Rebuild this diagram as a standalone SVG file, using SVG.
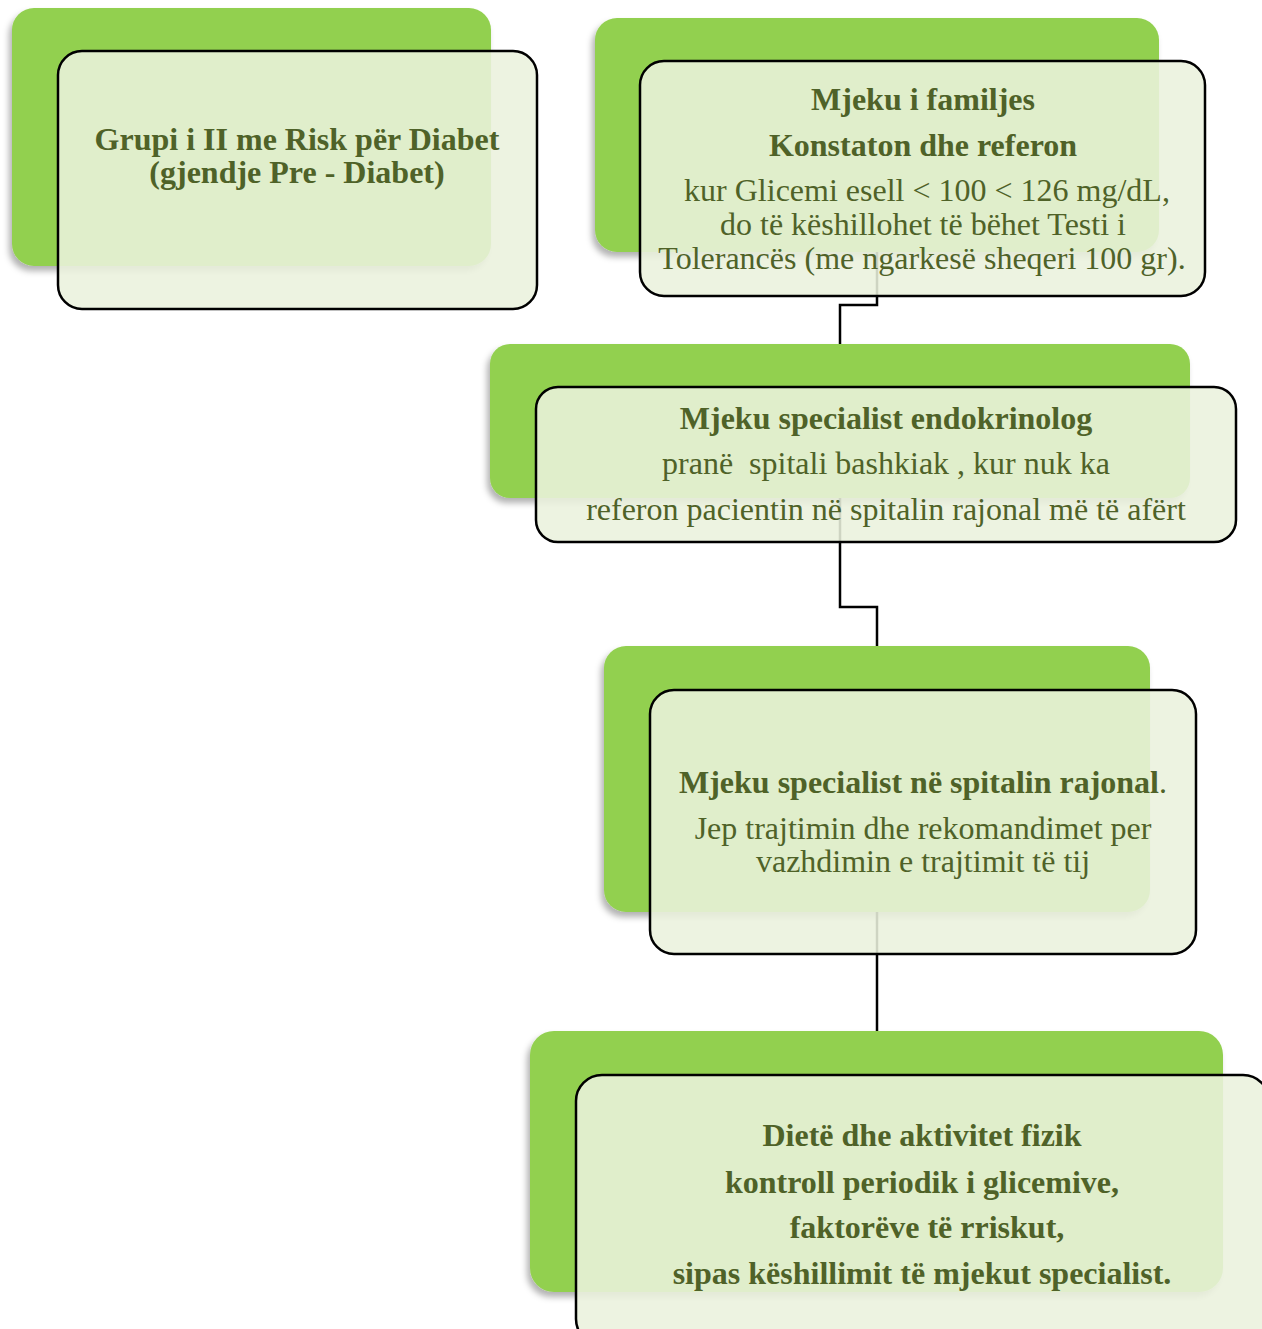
<svg xmlns="http://www.w3.org/2000/svg" width="1262" height="1329" viewBox="0 0 1262 1329">
<defs>
<filter id="sh" x="-10%" y="-10%" width="120%" height="125%">
<feDropShadow dx="-3" dy="5" stdDeviation="3" flood-color="#000" flood-opacity="0.3"/>
</filter>
<style>
.bg{fill:#92d050;filter:url(#sh)}
.fr{fill:#eaf1dd;fill-opacity:0.88;stroke:#000;stroke-width:2.5}
.t{font-family:"Liberation Serif","Times New Roman",serif;font-size:32px;fill:#4f6228;text-anchor:middle}
.b{font-weight:bold}
.cn{fill:none;stroke:#000;stroke-width:2.5}
</style>
</defs>
<rect width="1262" height="1329" fill="#fff"/>
<g id="connectors">
<path class="cn" d="M877 252 V305 H840 V344"/>
<path class="cn" d="M840 498 V607 H877 V646"/>
<path class="cn" d="M877 912 V1031"/>
</g>
<g id="node1">
<rect class="bg" x="12" y="8" width="479" height="258" rx="22"/>
<rect class="fr" x="58" y="51" width="479" height="258" rx="24"/>
<text class="t b" x="297" y="150">Grupi i II me Risk për Diabet</text>
<text class="t b" x="297" y="183">(gjendje Pre - Diabet)</text>
</g>
<g id="node2">
<rect class="bg" x="595" y="18" width="564" height="234" rx="22"/>
<rect class="fr" x="640" y="61" width="565" height="235" rx="24"/>
<text class="t b" x="923" y="110">Mjeku i familjes</text>
<text class="t b" x="923" y="156">Konstaton dhe referon</text>
<text class="t" x="927" y="201">kur Glicemi esell &lt; 100 &lt; 126 mg/dL,</text>
<text class="t" x="923" y="235">do të këshillohet të bëhet Testi i</text>
<text class="t" x="922" y="269">Tolerancës (me ngarkesë sheqeri 100 gr).</text>
</g>
<g id="node3">
<rect class="bg" x="490" y="344" width="700" height="154" rx="20"/>
<rect class="fr" x="536" y="387" width="700" height="155" rx="22"/>
<text class="t b" x="886" y="429">Mjeku specialist endokrinolog</text>
<text class="t" x="886" y="474">pranë&#160; spitali bashkiak , kur nuk ka</text>
<text class="t" x="886" y="520">referon pacientin në spitalin rajonal më të afërt</text>
</g>
<g id="node4">
<rect class="bg" x="604" y="646" width="546" height="266" rx="22"/>
<rect class="fr" x="650" y="690" width="546" height="264" rx="24"/>
<text class="t" x="923" y="793"><tspan class="b">Mjeku specialist në spitalin rajonal</tspan>.</text>
<text class="t" x="923" y="839">Jep trajtimin dhe rekomandimet per</text>
<text class="t" x="923" y="872">vazhdimin e trajtimit të tij</text>
</g>
<g id="node5">
<rect class="bg" x="530" y="1031" width="693" height="261" rx="24"/>
<rect class="fr" x="576" y="1075" width="693" height="270" rx="26"/>
<text class="t b" x="922" y="1146">Dietë dhe aktivitet fizik</text>
<text class="t b" x="922" y="1193">kontroll periodik i glicemive,</text>
<text class="t b" x="927" y="1238">faktorëve të rriskut,</text>
<text class="t b" x="922" y="1284">sipas këshillimit të mjekut specialist.</text>
</g>
</svg>
